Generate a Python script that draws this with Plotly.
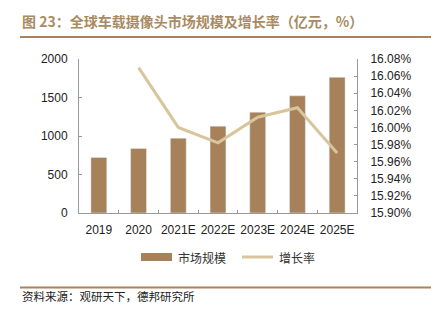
import plotly.graph_objects as go

categories = ["2019", "2020", "2021E", "2022E", "2023E", "2024E", "2025E"]
market_size = [721, 838, 972, 1128, 1310, 1522, 1762]
growth_cats = ["2020", "2021E", "2022E", "2023E", "2024E", "2025E"]
growth_rate = [16.07, 16.00, 15.982, 16.012, 16.023, 15.970]
legend_names = ["市场规模", "增长率"]

W, H = 440, 324
L, R, T, B = 79, 83, 59, 111
pw = W - L - R
ph = H - T - B

BAR_COLOR = "#A6815A"
LINE_COLOR = "#D9C59C"

def px_x(x):
    return (x - L) / pw

def px_y(y):
    return 1 - (y - T) / ph

fig = go.Figure()
fig.add_trace(go.Bar(x=categories, y=market_size, name=legend_names[0],
                     marker=dict(color=BAR_COLOR), width=0.4, yaxis="y"))
fig.add_trace(go.Scatter(x=growth_cats, y=growth_rate, name=legend_names[1], mode="lines",
                         line=dict(color=LINE_COLOR, width=3), yaxis="y2"))

axis_font = dict(family="Liberation Sans, Arial", size=12, color="#222")
cjk = "Noto Sans CJK SC"
fig.update_layout(
    width=W, height=H,
    margin=dict(l=L, r=R, t=T, b=B, autoexpand=False),
    paper_bgcolor="white", plot_bgcolor="white",
    showlegend=False,
    xaxis=dict(type="category", showline=True, linecolor="#999", linewidth=1,
               ticks="inside", tickson="boundaries", ticklen=3, tickcolor="#999",
               tickfont=axis_font, showgrid=False, tickangle=0, automargin=False,
               ticklabelstandoff=6),
    yaxis=dict(range=[0, 2000], dtick=500, showline=True, linecolor="#999", linewidth=1,
               ticks="inside", ticklen=3, tickcolor="#999", tickfont=axis_font,
               showgrid=False, zeroline=False, ticklabelstandoff=8, automargin=False),
    yaxis2=dict(range=[15.90, 16.08], dtick=0.02, overlaying="y", side="right",
                tickformat=".2f", ticksuffix="%", showline=True, linecolor="#999",
                linewidth=1, ticks="inside", ticklen=3, tickcolor="#999",
                tickfont=axis_font, showgrid=False, zeroline=False, ticklabelstandoff=10,
                automargin=False),
    shapes=[
        dict(type="line", xref="paper", yref="paper", x0=px_x(20), x1=px_x(431),
             y0=px_y(37), y1=px_y(37), line=dict(color="#A8825C", width=2)),
        dict(type="line", xref="paper", yref="paper", x0=px_x(20), x1=px_x(431),
             y0=px_y(287.5), y1=px_y(287.5), line=dict(color="#A8825C", width=2)),
        # legend swatches
        dict(type="rect", xref="paper", yref="paper", x0=px_x(141), x1=px_x(172),
             y0=px_y(261), y1=px_y(253), fillcolor=BAR_COLOR, line=dict(width=0)),
        dict(type="line", xref="paper", yref="paper", x0=px_x(242), x1=px_x(273),
             y0=px_y(257), y1=px_y(257), line=dict(color=LINE_COLOR, width=3)),
    ],
    annotations=[
        dict(text="<b>图 23：全球车载摄像头市场规模及增长率（亿元，%）</b>", xref="paper", yref="paper",
             x=px_x(20), y=px_y(21), xanchor="left", yanchor="middle", showarrow=False,
             font=dict(family=cjk, size=14, color="#A88B63")),
        dict(text="资料来源：观研天下，德邦研究所", xref="paper", yref="paper",
             x=px_x(20), y=px_y(296), xanchor="left", yanchor="middle", showarrow=False,
             font=dict(family=cjk, size=11.5, color="#222")),
        dict(text=legend_names[0], xref="paper", yref="paper",
             x=px_x(176), y=px_y(257), xanchor="left", yanchor="middle", showarrow=False,
             font=dict(family=cjk, size=12, color="#333")),
        dict(text=legend_names[1], xref="paper", yref="paper",
             x=px_x(277), y=px_y(257), xanchor="left", yanchor="middle", showarrow=False,
             font=dict(family=cjk, size=12, color="#333")),
    ],
)

fig.write_html("out.html")
